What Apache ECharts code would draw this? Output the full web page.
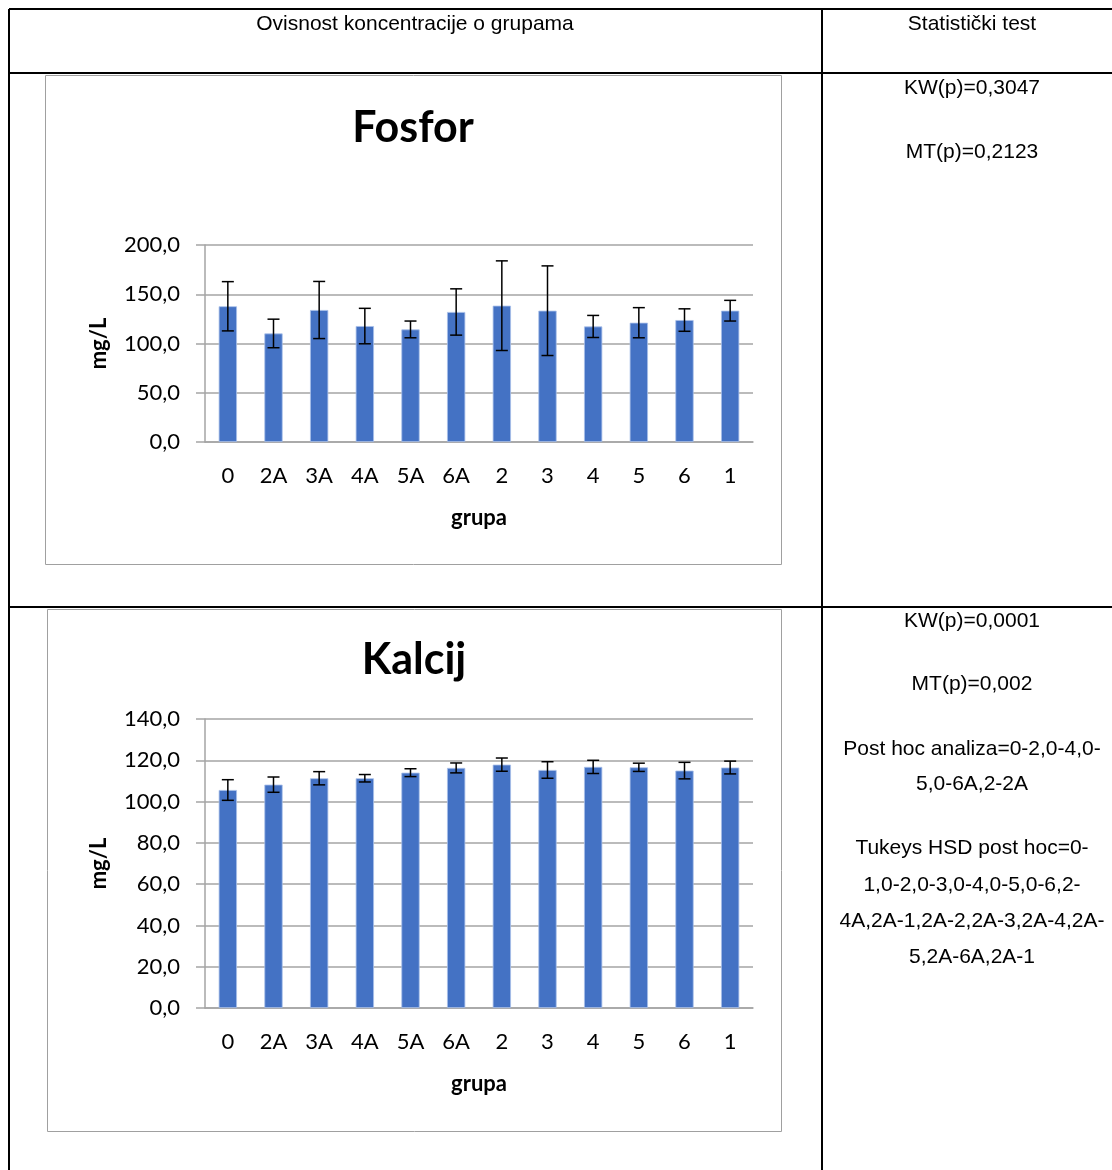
<!DOCTYPE html>
<html>
<head>
<meta charset="utf-8">
<script src="https://cdn.jsdelivr.net/npm/echarts@6/dist/echarts.min.js"></script>
<style>
html,body{margin:0;padding:0;background:#fff;}
#c{width:1112px;height:1170px;}
</style>
</head>
<body>
<div id="c"></div>
<script>
// ---- data ----
var categories = ['0','2A','3A','4A','5A','6A','2','3','4','5','6','1'];
var fosforMean = [137.8,110.2,134.0,117.7,114.3,132.0,138.4,133.3,117.3,121.1,123.8,133.3];
var fosforErr  = [25.0,14.5,29.0,18.0,8.5,23.5,45.5,45.5,11.2,15.3,11.4,10.5];
var kalcijMean = [105.6,108.2,111.3,111.3,114.0,116.3,117.9,115.3,116.8,116.6,115.0,116.5];
var kalcijErr  = [5.0,3.7,3.2,1.8,1.9,2.4,3.2,4.0,3.2,2.0,4.0,3.1];
var headerLeft = 'Ovisnost koncentracije o grupama';
var headerRight = 'Statistički test';
var fosforTests = ['KW(p)=0,3047','MT(p)=0,2123'];
var kalcijTests = ['KW(p)=0,0001','MT(p)=0,002','Post hoc analiza=0-2,0-4,0-','5,0-6A,2-2A',
  'Tukeys HSD post hoc=0-','1,0-2,0-3,0-4,0-5,0-6,2-','4A,2A-1,2A-2,2A-3,2A-4,2A-','5,2A-6A,2A-1'];

var chart = echarts.init(document.getElementById('c'), null, {renderer:'canvas'});
var FONT = 'Lato';
var TFONT = '"Liberation Sans", Arial, sans-serif';
var GRID = '#a5a5a5';
var BAR = '#4472C4';

function fmt(v){ return v.toFixed(1).replace('.', ','); }

function errData(m, e){ return m.map(function(v,i){ return [i, v - e[i], v + e[i]]; }); }

function errRender(params, api){
  var lo = api.coord([api.value(0), api.value(1)]);
  var hi = api.coord([api.value(0), api.value(2)]);
  var hw = 6;
  var st = {stroke:'#000', lineWidth:1.5};
  return {type:'group', children:[
    {type:'line', shape:{x1:lo[0],y1:lo[1],x2:hi[0],y2:hi[1]}, style:st},
    {type:'line', shape:{x1:lo[0]-hw,y1:lo[1],x2:lo[0]+hw,y2:lo[1]}, style:st},
    {type:'line', shape:{x1:hi[0]-hw,y1:hi[1],x2:hi[0]+hw,y2:hi[1]}, style:st}
  ]};
}

function xAx(gi){
  return {type:'category', gridIndex:gi, data:categories,
    axisLine:{show:true, lineStyle:{color:GRID, width:1.5}},
    axisTick:{show:false},
    axisLabel:{color:'#000', fontFamily:FONT, fontSize:22, margin:23},
    name:'grupa', nameLocation:'middle', nameGap:65,
    nameTextStyle:{color:'#000', fontFamily:FONT, fontSize:22, fontWeight:'bold'}};
}
function yAx(gi, max, interval){
  return {type:'value', gridIndex:gi, min:0, max:max, interval:interval,
    axisLine:{show:true, lineStyle:{color:GRID, width:1.5}},
    axisTick:{show:true, length:9, lineStyle:{color:GRID, width:1.5}},
    splitLine:{show:true, lineStyle:{color:GRID, width:1.5}},
    axisLabel:{color:'#000', fontFamily:FONT, fontSize:22, margin:25, formatter:fmt},
    name:'mg/L', nameLocation:'middle', nameGap:95, nameRotate:90,
    nameTextStyle:{color:'#000', fontFamily:FONT, fontSize:22, fontWeight:'bold'}};
}

var graphics = [];
function line(x1,y1,x2,y2,w,c){
  graphics.push({type:'line', shape:{x1:x1,y1:y1,x2:x2,y2:y2}, style:{stroke:c||'#000', lineWidth:w||2}, z:10});
}
function txt(t,x,y,opt){
  opt = opt || {};
  graphics.push({type:'text', x:x, y:y, z:10, style:{text:t, fill:'#000',
    font:(opt.weight||'normal')+' '+(opt.size||21)+'px '+(opt.family||TFONT),
    textAlign:'center', textVerticalAlign:'middle'}});
}
// table
line(9,9,1112,9); line(9,9,9,1170); line(9,73,1112,73); line(9,607,1112,607); line(822,9,822,1170);
// chart frames
graphics.push({type:'rect', shape:{x:45.5,y:75.5,width:736,height:489}, style:{fill:'none', stroke:'#a0a0a0', lineWidth:1}});
graphics.push({type:'rect', shape:{x:47.5,y:609.5,width:734,height:522}, style:{fill:'none', stroke:'#a0a0a0', lineWidth:1}});
// header texts
txt(headerLeft, 415, 24);
txt(headerRight, 972, 24);
txt(fosforTests[0], 972, 88);
txt(fosforTests[1], 972, 152);
var ky = [621, 684, 749, 784, 848, 885, 921, 957];
kalcijTests.forEach(function(t,i){ txt(t, 972, ky[i]); });
// chart titles
txt('Fosfor', 413, 128, {size:43, weight:'bold', family:FONT});
txt('Kalcij', 414, 660, {size:43, weight:'bold', family:FONT});

chart.setOption({
  animation:false,
  grid:[
    {left:205, top:245, width:548, height:197},
    {left:205, top:719, width:548, height:289}
  ],
  xAxis:[xAx(0), xAx(1)],
  yAxis:[yAx(0,200,50), yAx(1,140,20)],
  graphic:graphics,
  series:[
    {type:'bar', xAxisIndex:0, yAxisIndex:0, data:fosforMean, barWidth:'40%',
      itemStyle:{color:BAR, borderColor:'#a9c0ea', borderWidth:0.8}},
    {type:'custom', xAxisIndex:0, yAxisIndex:0, data:errData(fosforMean,fosforErr), renderItem:errRender, z:5},
    {type:'bar', xAxisIndex:1, yAxisIndex:1, data:kalcijMean, barWidth:'40%',
      itemStyle:{color:BAR, borderColor:'#a9c0ea', borderWidth:0.8}},
    {type:'custom', xAxisIndex:1, yAxisIndex:1, data:errData(kalcijMean,kalcijErr), renderItem:errRender, z:5}
  ]
});
</script>
</body>
</html>
